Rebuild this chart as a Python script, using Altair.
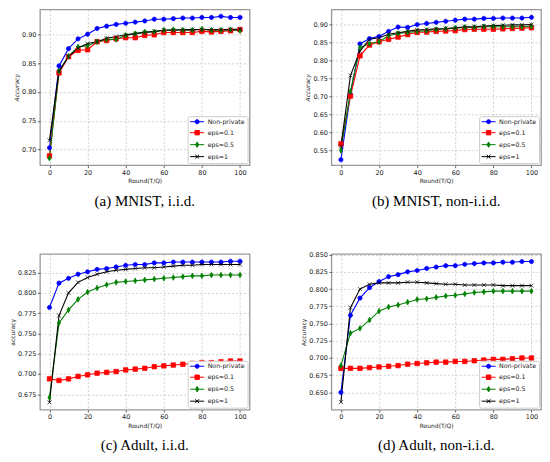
import altair as alt
import pandas as pd

rounds = list(range(0, 101, 5))
series = ["Non-private", "eps=0.1", "eps=0.5", "eps=1"]
colors = ["#0000ff", "#ff0000", "#008000", "#000000"]
x_ticks = [0, 20, 40, 60, 80, 100]

# (a) MNIST, i.i.d.
a_np = [0.703, 0.845, 0.875, 0.892, 0.900, 0.910, 0.914, 0.917, 0.919, 0.921, 0.923,
        0.926, 0.926, 0.927, 0.928, 0.928, 0.929, 0.929, 0.931, 0.929, 0.929]
a_01 = [0.689, 0.833, 0.861, 0.872, 0.873, 0.887, 0.889, 0.892, 0.894, 0.894, 0.898,
        0.899, 0.903, 0.903, 0.903, 0.903, 0.905, 0.904, 0.905, 0.906, 0.908]
a_05 = [0.685, 0.836, 0.862, 0.878, 0.880, 0.887, 0.891, 0.891, 0.898, 0.901, 0.904,
        0.904, 0.907, 0.908, 0.907, 0.907, 0.909, 0.907, 0.907, 0.908, 0.906]
a_1 = [0.716, 0.836, 0.861, 0.876, 0.884, 0.887, 0.893, 0.896, 0.899, 0.901, 0.903,
       0.905, 0.907, 0.907, 0.908, 0.908, 0.908, 0.908, 0.908, 0.908, 0.909]

# (b) MNIST, non-i.i.d.
b_np = [0.523, 0.705, 0.845, 0.860, 0.866, 0.880, 0.892, 0.891, 0.899, 0.902, 0.905,
        0.908, 0.911, 0.914, 0.914, 0.916, 0.916, 0.917, 0.917, 0.917, 0.919]
b_01 = [0.567, 0.700, 0.812, 0.842, 0.851, 0.858, 0.864, 0.871, 0.877, 0.878, 0.880,
        0.881, 0.882, 0.885, 0.886, 0.886, 0.886, 0.887, 0.888, 0.889, 0.890]
b_05 = [0.549, 0.713, 0.835, 0.846, 0.851, 0.868, 0.874, 0.877, 0.880, 0.882, 0.885,
        0.887, 0.889, 0.891, 0.891, 0.893, 0.893, 0.893, 0.893, 0.893, 0.894]
b_1 = [0.560, 0.757, 0.825, 0.858, 0.862, 0.872, 0.876, 0.880, 0.884, 0.885, 0.887,
       0.888, 0.890, 0.893, 0.893, 0.895, 0.896, 0.897, 0.898, 0.898, 0.899]

# (c) Adult, i.i.d.
c_np = [0.782, 0.812, 0.818, 0.823, 0.826, 0.829, 0.830, 0.832, 0.834, 0.835, 0.835,
        0.837, 0.837, 0.838, 0.838, 0.838, 0.838, 0.838, 0.838, 0.839, 0.839]
c_01 = [0.694, 0.692, 0.694, 0.697, 0.699, 0.701, 0.702, 0.703, 0.705, 0.706, 0.707,
        0.709, 0.710, 0.711, 0.712, 0.713, 0.714, 0.714, 0.715, 0.716, 0.716]
c_05 = [0.671, 0.763, 0.779, 0.792, 0.801, 0.806, 0.810, 0.813, 0.814, 0.815, 0.816,
        0.817, 0.818, 0.819, 0.820, 0.821, 0.821, 0.822, 0.822, 0.822, 0.822]
c_1 = [0.665, 0.772, 0.800, 0.813, 0.819, 0.823, 0.826, 0.828, 0.829, 0.830, 0.831,
       0.831, 0.832, 0.833, 0.834, 0.834, 0.835, 0.835, 0.835, 0.835, 0.835]

# (d) Adult, non-i.i.d.
d_np = [0.650, 0.762, 0.787, 0.802, 0.811, 0.818, 0.821, 0.825, 0.827, 0.830, 0.832,
        0.834, 0.834, 0.836, 0.837, 0.838, 0.838, 0.839, 0.839, 0.840, 0.840]
d_01 = [0.685, 0.685, 0.685, 0.686, 0.687, 0.688, 0.689, 0.691, 0.692, 0.693, 0.694,
        0.694, 0.695, 0.695, 0.696, 0.697, 0.698, 0.698, 0.699, 0.700, 0.700]
d_05 = [0.689, 0.736, 0.743, 0.755, 0.768, 0.774, 0.777, 0.781, 0.785, 0.786, 0.788,
        0.790, 0.791, 0.793, 0.795, 0.796, 0.797, 0.797, 0.797, 0.797, 0.797]
d_1 = [0.636, 0.773, 0.800, 0.807, 0.809, 0.809, 0.809, 0.810, 0.810, 0.809, 0.808,
       0.807, 0.807, 0.806, 0.806, 0.806, 0.806, 0.805, 0.805, 0.805, 0.805]

# marker shapes (circle, square, thin diamond, x)
marker_paths = [
    "M0.75,0A0.75,0.75,0,1,1,-0.75,0A0.75,0.75,0,1,1,0.75,0Z",
    "M-0.8,-0.8L0.8,-0.8L0.8,0.8L-0.8,0.8Z",
    "M0,-1L0.55,0L0,1L-0.55,0Z",
    "M-0.7,-0.7L0.7,0.7M-0.7,0.7L0.7,-0.7",
]
# legend keys: short line with the marker in the middle
legend_paths = [
    "M-2.33,0L2.33,0M0.68,0A0.68,0.68,0,1,1,-0.68,0A0.68,0.68,0,1,1,0.68,0Z",
    "M-2.33,0L2.33,0M-0.73,-0.73L0.73,-0.73L0.73,0.73L-0.73,0.73Z",
    "M-2.33,0L2.33,0M0,-0.9L0.5,0L0,0.9L-0.5,0Z",
    "M-2.33,0L2.33,0M-0.63,-0.63L0.63,0.63M-0.63,0.63L0.63,-0.63",
]


def panel(vals, ydom, yticks, yfmt, ytitle, italic, caption):
    rows = []
    for name, ys in zip(series, vals):
        for r, v in zip(rounds, ys):
            rows.append({"round": r, "acc": v, "series": name})
    df = pd.DataFrame(rows)
    base = alt.Chart(df)

    x = alt.X("round:Q", scale=alt.Scale(domain=[-5, 105], nice=False, zero=False),
              axis=alt.Axis(values=x_ticks, title="Round(T/Q)"))
    y = alt.Y("acc:Q", scale=alt.Scale(domain=ydom, nice=False, zero=False),
              axis=alt.Axis(values=yticks, format=yfmt, title=ytitle,
                            titleFontStyle="italic" if italic else "normal"))
    cscale = alt.Scale(domain=series, range=colors)
    leg = alt.Legend(title=None)

    lines = base.mark_line(strokeWidth=1.1).encode(
        x=x, y=y, color=alt.Color("series:N", scale=cscale, legend=None)
    )
    pts = base.mark_point(filled=True, opacity=1, size=32, strokeWidth=0.7).encode(
        x=x, y=y,
        color=alt.Color("series:N", scale=cscale, legend=None),
        stroke=alt.Stroke("series:N", scale=cscale, legend=None),
        shape=alt.Shape("series:N", scale=alt.Scale(domain=series, range=marker_paths), legend=None),
    )
    key = base.mark_point(filled=True, opacity=1, strokeWidth=1).encode(
        x=x, y=y,
        color=alt.Color("series:N", scale=cscale, legend=leg),
        stroke=alt.Stroke("series:N", scale=cscale, legend=leg),
        shape=alt.Shape("series:N", scale=alt.Scale(domain=series, range=legend_paths), legend=leg),
    ).transform_filter("false")

    return alt.layer(lines, pts, key).resolve_scale(
        color="independent", stroke="independent", shape="independent"
    ).properties(
        width=210, height=156,
        title=alt.TitleParams(caption, orient="bottom", anchor="middle", offset=10),
    )


pa = panel([a_np, a_01, a_05, a_1], [0.673, 0.943], [0.70, 0.75, 0.80, 0.85, 0.90],
           ".2f", "Accuracy", True, "(a) MNIST, i.i.d.")
pb = panel([b_np, b_01, b_05, b_1], [0.508, 0.941],
           [0.55, 0.60, 0.65, 0.70, 0.75, 0.80, 0.85, 0.90],
           ".2f", "Accuracy", True, "(b) MNIST, non-i.i.d.")
pc = panel([c_np, c_01, c_05, c_1], [0.656, 0.848],
           [0.675, 0.700, 0.725, 0.750, 0.775, 0.800, 0.825],
           ".3f", "accuracy", False, "(c) Adult, i.i.d.")
pd_ = panel([d_np, d_01, d_05, d_1], [0.625, 0.851],
            [0.650, 0.675, 0.700, 0.725, 0.750, 0.775, 0.800, 0.825, 0.850],
            ".3f", "Accuracy", False, "(d) Adult, non-i.i.d.")

chart = alt.concat(
    pa, pb, pc, pd_, columns=2, spacing={"row": 89, "column": 82}
).properties(
    bounds="flush", padding=0
).configure_view(
    stroke="#999999", strokeWidth=1.3
).configure_axis(
    labelFont="DejaVu Sans", labelFontSize=6.5, labelColor="#222222",
    titleFont="DejaVu Sans", titleFontSize=6, titleFontWeight="normal", titleColor="#222222",
    tickSize=2.5, tickColor="#444444", tickWidth=0.8, domain=False,
    labelPadding=1.5, titlePadding=2,
    gridColor="#bdbdbd", gridDash=[2, 2], gridWidth=0.7,
).configure_legend(
    orient="bottom-right", offset=2, padding=2, strokeColor="#cccccc", fillColor="white",
    cornerRadius=2, labelFont="DejaVu Sans", labelFontSize=6.3, labelColor="#222222",
    symbolSize=36, symbolStrokeWidth=1, symbolOffset=4, labelOffset=7, rowPadding=2,
).configure_title(
    font="Liberation Serif", fontSize=15, fontWeight="normal", color="black",
)

chart.save("out.html", embed_options={"renderer": "svg", "actions": False})
